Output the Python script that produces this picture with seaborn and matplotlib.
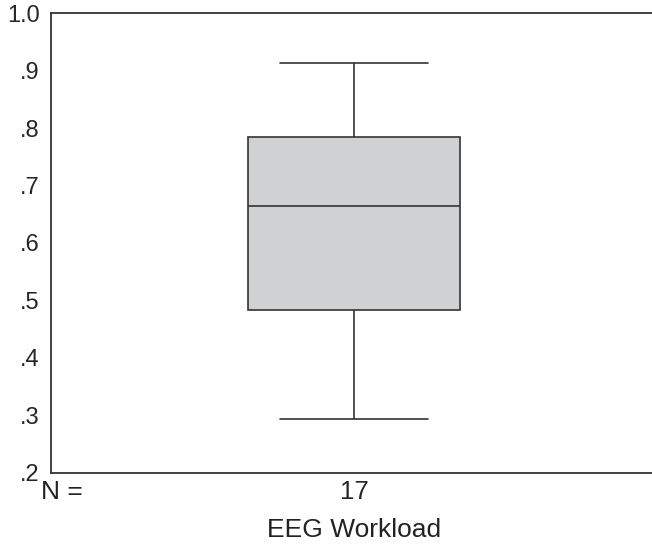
import pandas as pd
import numpy as np
import matplotlib.pyplot as plt
import seaborn as sns

# EEG workload scores (17 subjects)
workload = [0.293, 0.352, 0.410, 0.455, 0.483, 0.528, 0.571, 0.620, 0.665,
            0.692, 0.718, 0.751, 0.785, 0.812, 0.846, 0.880, 0.913]
y_ticks = [0.2, 0.3, 0.4, 0.5, 0.6, 0.7, 0.8, 0.9, 1.0]
y_labels = ['.2', '.3', '.4', '.5', '.6', '.7', '.8', '.9', '1.0']
var_name = 'EEG Workload'

df = pd.DataFrame({'n': str(len(workload)), 'value': workload})

sns.set_style('white')
plt.rcParams['font.family'] = ['Liberation Sans', 'DejaVu Sans']

fig = plt.figure(figsize=(6.52, 5.45), dpi=100)
ax = fig.add_axes([0.0778, 0.1327, 0.93, 0.8429])

line = '#333333'
box_w = 0.3526
sns.boxplot(data=df, x='n', y='value', ax=ax, width=box_w, color='#d0d1d3',
            linecolor=line, linewidth=1.2, whis=1.5, fliersize=0,
            saturation=1, capwidths=0.7 * box_w)

ax.set_ylim(0.2, 1.0)
ax.set_xlim(-0.5044, 0.4956 + (0.93 - 0.9222) / 0.9222)
ax.set_yticks(y_ticks)
ax.set_yticklabels(y_labels)
ax.tick_params(axis='y', length=4, width=1, color=line, labelsize=17, pad=4)
ax.tick_params(axis='x', length=3, width=1, color=line, labelsize=18.5, pad=2)
ax.set_ylabel('')
ax.set_xlabel(var_name, fontsize=19, labelpad=10, color='#222222')
for s in ['left', 'bottom', 'top']:
    ax.spines[s].set_visible(True)
    ax.spines[s].set_color(line)
    ax.spines[s].set_linewidth(1.3)
ax.spines['right'].set_visible(False)

fig.text(0.063, 0.097, 'N =', fontsize=19, ha='left', va='center', color='#222222')

plt.savefig('out.png', dpi=100)
plt.close()
